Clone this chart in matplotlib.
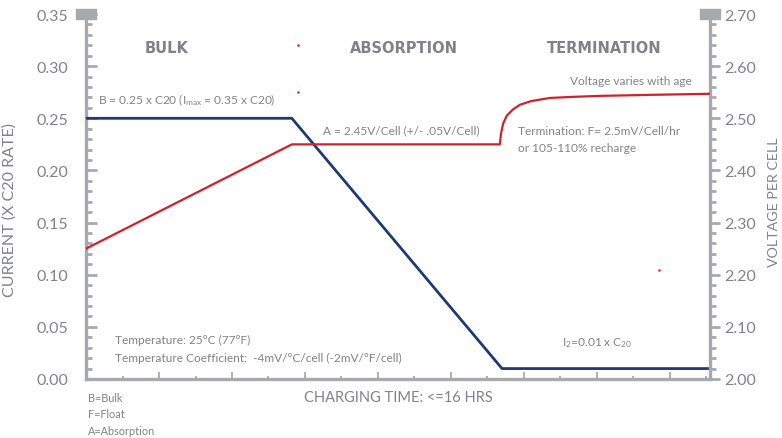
import matplotlib
matplotlib.use("Agg")
import matplotlib.pyplot as plt
from matplotlib.ticker import MultipleLocator

plt.rcParams['font.family'] = ['Lato', 'DejaVu Sans']
plt.rcParams['mathtext.default'] = 'regular'

GRAY = '#808285'
SPINE = '#a7a9ac'
BLUE = '#1f3a70'
RED = '#d2202a'

# current curve (hours, x C20)
cur_x = [0.0, 5.64, 11.4, 17.1]
cur_y = [0.25, 0.25, 0.01, 0.01]

# voltage curve (hours, V/cell)
volt_x = [0.0, 5.64, 11.34, 11.37, 11.43, 11.53, 11.7, 11.89, 12.2, 12.71, 13.3, 14.08, 15.5, 17.1]
volt_y = [2.25, 2.45, 2.45, 2.47, 2.49, 2.505, 2.517, 2.526, 2.533, 2.539, 2.541, 2.543, 2.545, 2.547]

# stray red marks in the picture
dots_x = [5.8, 5.8, 15.7]
dots_y = [2.64, 2.55, 2.21]

fig = plt.figure(figsize=(7.82, 4.39), dpi=100)
ax = fig.add_axes([0.110, 0.1344, 0.798, 0.8314])
ax2 = ax.twinx()

ax.set_xlim(0, 17.1)
ax.set_ylim(0, 0.35)
ax2.set_ylim(2.0, 2.7)

for a in (ax, ax2):
    for s in a.spines.values():
        s.set_visible(False)
ax.spines['left'].set_visible(True)
ax.spines['bottom'].set_visible(True)
ax2.spines['right'].set_visible(True)
for s in (ax.spines['left'], ax.spines['bottom'], ax2.spines['right']):
    s.set_color(SPINE)
    s.set_linewidth(2.4)

ax.yaxis.set_major_locator(MultipleLocator(0.05))
ax.yaxis.set_minor_locator(MultipleLocator(0.01))
ax.xaxis.set_major_locator(MultipleLocator(2))
ax.xaxis.set_minor_locator(MultipleLocator(1))
ax.set_xticklabels([])
ax.tick_params(axis='y', which='major', direction='in', length=8, width=2, color=SPINE,
               labelsize=11.5, labelcolor=GRAY, pad=13)
ax.tick_params(axis='y', which='minor', direction='in', length=4.5, width=2, color=SPINE)
ax.tick_params(axis='x', which='major', direction='in', length=5, width=1.3, color=SPINE, pad=4)
ax.tick_params(axis='x', which='minor', direction='in', length=2.5, width=1.3, color=SPINE)
ax.yaxis.set_major_formatter(plt.FuncFormatter(lambda v, p: f'{v:.2f}'))

ax2.yaxis.set_major_locator(MultipleLocator(0.1))
ax2.yaxis.set_minor_locator(MultipleLocator(0.02))
ax2.tick_params(axis='y', which='major', direction='out', length=7, width=2, color=SPINE,
                labelsize=11.5, labelcolor=GRAY, pad=3)
ax2.tick_params(axis='y', which='minor', direction='out', length=4, width=2, color=SPINE)
ax2.yaxis.set_major_formatter(plt.FuncFormatter(lambda v, p: f'{v:.2f}'))

# rounded caps at top of the two vertical axes
cap = [(-1, -0.5), (1, -0.5), (1, 0.5), (-1, 0.5), (-1, -0.5)]
ax.plot([0, 17.1], [0.35, 0.35], ls='none', marker=cap, ms=14, color=SPINE,
        clip_on=False, zorder=5)

ax.plot(cur_x, cur_y, color=BLUE, lw=2, solid_capstyle='butt', zorder=4)
ax2.plot(volt_x, volt_y, color=RED, lw=1.6, zorder=3)
ax2.plot(dots_x, dots_y, ls='none', marker='o', ms=0.8, color=RED)

ax.set_ylabel('CURRENT (X C20 RATE)', color=GRAY, fontsize=11.5)
ax.yaxis.set_label_coords(-0.1106, 0.466)
ax2.set_ylabel('VOLTAGE PER CELL', color=GRAY, fontsize=10.3)
ax2.yaxis.set_label_coords(1.093, 0.488)

hdr = dict(color=GRAY, fontsize=10.5, fontweight='bold', ha='center', va='center',
           family='DejaVu Sans')
ax.text(2.2, 0.318, 'BULK', **hdr)
ax.text(8.7, 0.318, 'ABSORPTION', **hdr)
ax.text(14.2, 0.318, 'TERMINATION', **hdr)

note = dict(color=GRAY, fontsize=8.6, va='center')
ax.text(0.32, 0.268, r'B = 0.25 x C20 (I$_{max}$ = 0.35 x C20)', **note)
ax.text(6.5, 0.239, 'A = 2.45V/Cell (+/- .05V/Cell)', **note)
ax.text(16.6, 0.286, 'Voltage varies with age', ha='right', color=GRAY, fontsize=8.6, va='center')
ax.text(11.84, 0.238, 'Termination: F= 2.5mV/Cell/hr', **note)
ax.text(11.84, 0.222, 'or 105-110% recharge', **note)
ax.text(0.8, 0.0375, 'Temperature: 25°C (77°F)', **note)
ax.text(0.8, 0.0205, 'Temperature Coefficient:  -4mV/°C/cell (-2mV/°F/cell)', **note)
ax.text(14.0, 0.0355, r'I$_2$=0.01 x C$_{20}$', ha='center', color=GRAY, fontsize=8.6, va='center')

fig.text(0.509, 0.093, 'CHARGING TIME: <=16 HRS', color=GRAY, fontsize=10.5, ha='center', va='center')
fig.text(0.113, 0.093, 'B=Bulk', color=GRAY, fontsize=7.8, va='center')
fig.text(0.113, 0.055, 'F=Float', color=GRAY, fontsize=7.8, va='center')
fig.text(0.113, 0.018, 'A=Absorption', color=GRAY, fontsize=7.8, va='center')

fig.savefig('out.png', dpi=100)
